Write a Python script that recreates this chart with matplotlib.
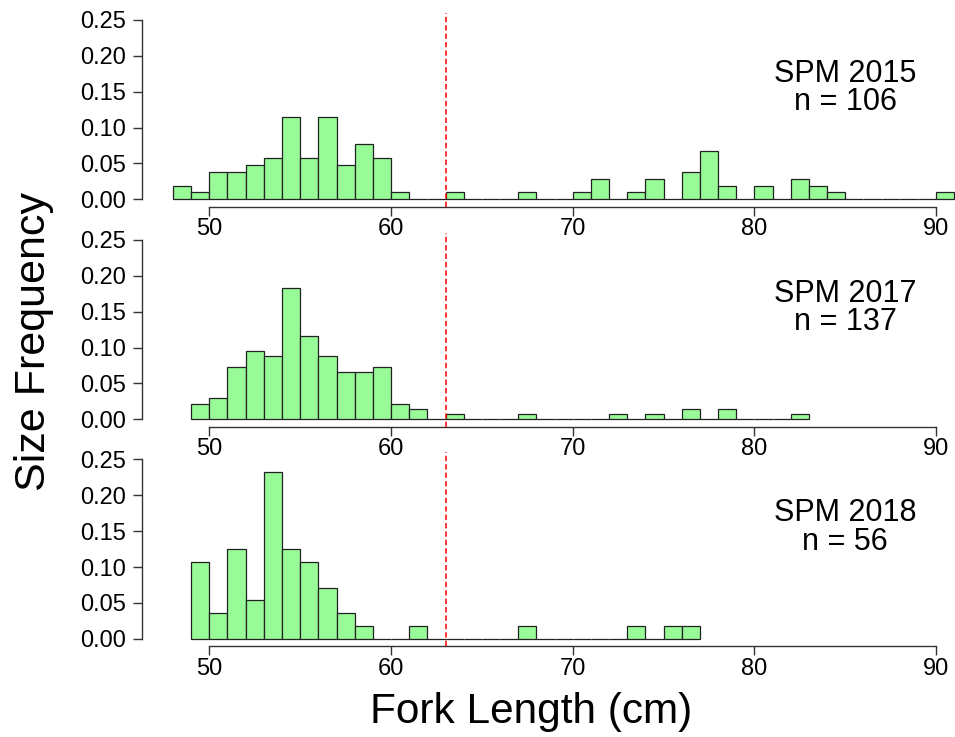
import numpy as np
import matplotlib
matplotlib.use("Agg")
from matplotlib import pyplot as plt

plt.rcParams['font.family'] = ['Liberation Sans', 'DejaVu Sans']

# counts per 1 cm bin
start_2015 = 48
counts_2015 = [2, 1, 4, 4, 5, 6, 12, 6, 12, 5, 8, 6, 1, 0, 0, 1, 0, 0, 0, 1,
               0, 0, 1, 3, 0, 1, 3, 0, 4, 7, 2, 0, 2, 0, 3, 2, 1, 0, 0, 0,
               0, 0, 1]
start_2017 = 49
counts_2017 = [3, 4, 10, 13, 12, 25, 16, 12, 9, 9, 10, 3, 2, 0, 1, 0, 0, 0,
               1, 0, 0, 0, 0, 1, 0, 1, 0, 2, 0, 2, 0, 0, 0, 1]
start_2018 = 49
counts_2018 = [6, 2, 7, 3, 13, 7, 6, 4, 2, 1, 0, 0, 1, 0, 0, 0, 0, 0, 1, 0,
               0, 0, 0, 0, 1, 0, 1, 1]

labels = ["SPM 2015", "SPM 2017", "SPM 2018"]
n_labels = ["n = 106", "n = 137", "n = 56"]
cutoff = 63

panels = [(start_2015, counts_2015), (start_2017, counts_2017), (start_2018, counts_2018)]

fig = plt.figure(figsize=(9.55, 7.37), dpi=100)
bottoms = [0.7198, 0.4213, 0.1235]
ax_col = '#333333'

for ii, (start, counts) in enumerate(panels):
    ax = fig.add_axes([0.1484, bottoms[ii], 0.8836, 0.2628])
    counts = np.array(counts, dtype=float)
    freq = counts / counts.sum()
    edges = start + np.arange(len(counts))
    ax.bar(edges, freq, width=1, align='edge', color='#98FB98',
           edgecolor='#222222', linewidth=0.9, zorder=2)
    ax.axvline(cutoff, color='red', linestyle=(0, (3.5, 2)), linewidth=1.1, zorder=3)

    ax.set_xlim(46.28, 92.72)
    ax.set_ylim(-0.01, 0.26)
    ax.set_xticks([50, 60, 70, 80, 90])
    ax.set_yticks(np.arange(0, 0.26, 0.05))
    ax.set_yticklabels(["%.2f" % v for v in np.arange(0, 0.26, 0.05)])
    for s in ['top', 'right']:
        ax.spines[s].set_visible(False)
    ax.spines['left'].set_bounds(0, 0.25)
    ax.spines['bottom'].set_bounds(50, 90)
    for s in ['left', 'bottom']:
        ax.spines[s].set_color(ax_col)
        ax.spines[s].set_linewidth(1.0)
    ax.tick_params(axis='both', direction='out', length=6.5, width=1.0,
                   color=ax_col, labelsize=17)
    ax.tick_params(axis='y', pad=5)
    ax.tick_params(axis='x', pad=2)
    ax.patch.set_visible(False)

    # two-line panel label, baseline of the last line at y
    ax.text(85, 0.124, labels[ii] + "\n" + n_labels[ii], ha='center',
            va='baseline', multialignment='center', fontsize=22, linespacing=0.93)

fig.text(0.556, 0.019, "Fork Length (cm)", ha='center', va='baseline', fontsize=30.5)
fig.text(0.036, 0.536, "Size Frequency", ha='center', va='center',
         rotation=90, fontsize=31)

plt.savefig("out.png", dpi=100)
plt.close('all')
